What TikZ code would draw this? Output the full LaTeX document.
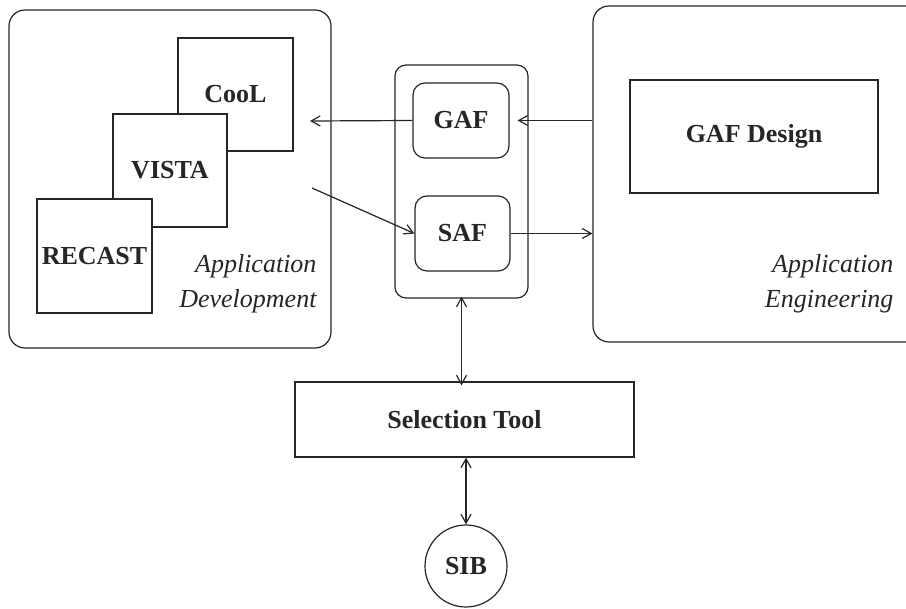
\documentclass[tikz,border=0pt]{standalone}
\usepackage{fontspec}
\setmainfont{Liberation Serif}
\usetikzlibrary{arrows.meta}
\begin{document}
\begin{tikzpicture}[x=1pt,y=-1pt,
  ink/.style={draw=black!85, line width=1.2pt},
  box/.style={ink, rectangle, inner sep=0pt, fill=white},
  rbox/.style={box, rounded corners=12pt},
  lbl/.style={font=\fontsize{26}{35}\selectfont\bfseries, text=black!85},
  ital/.style={font=\fontsize{26}{35}\selectfont\itshape, text=black!85, align=right, anchor=east},
  arr/.style={ink, -{Straight Barb[length=9pt,width=10pt]}},
  darr/.style={ink, {Straight Barb[length=9pt,width=10pt]}-{Straight Barb[length=9pt,width=10pt]}}]
\useasboundingbox (0,0) rectangle (906,609);
\fill[white] (0,0) rectangle (906,609);
% outer containers
\node[rbox, rounded corners=16pt, minimum width=322pt, minimum height=338pt] (dev) at (170,179) {};
\node[rbox, rounded corners=11pt, minimum width=133pt, minimum height=233pt] (mid) at (461.5,181.5) {};
\node[rbox, rounded corners=16pt, minimum width=337pt, minimum height=336pt] (eng) at (761.5,174) {};
% application development tools
\node[box, minimum width=115pt, minimum height=113pt, lbl] (cool) at (235.5,94.5) {CooL};
\node[box, minimum width=114pt, minimum height=113pt, lbl] (vista) at (170,170.5) {VISTA};
\node[box, minimum width=115pt, minimum height=114pt, lbl] (recast) at (94.5,256) {RECAST};
\node[ital] (devlbl) at (320,284) {Application\\Development};
% frameworks
\node[rbox, minimum width=96pt, minimum height=75pt, lbl] (gaf) at (461,120.5) {GAF};
\node[rbox, minimum width=95pt, minimum height=75pt, lbl] (saf) at (462.5,233.5) {SAF};
% engineering
\node[box, minimum width=248pt, minimum height=113pt, lbl] (design) at (754,136.5) {GAF Design};
\node[ital] (englbl) at (897,284) {Application\\Engineering};
% selection tool and SIB
\node[box, minimum width=339pt, minimum height=75pt, lbl] (sel) at (464.5,419.5) {Selection Tool};
\node[box, circle, minimum size=82pt, lbl] (sib) at (466,566) {SIB};
% connectors
\coordinate (tipdev) at (310,121);
\coordinate (fromdev) at (312,188);
\draw[arr] (eng.west |- gaf.east) -- ([xshift=8pt]gaf.east);
\draw[arr] (gaf.west) -- (tipdev);
\draw[arr] (fromdev) -- (saf.west);
\draw[arr] (saf.east) -- (eng.west |- saf.east);
\draw[darr] ([yshift=2pt]mid.south) -- ([yshift=-4pt]sel.north -| mid.south);
\draw[darr] (sel.south -| sib.north) -- (sib.north);
\end{tikzpicture}
\end{document}
